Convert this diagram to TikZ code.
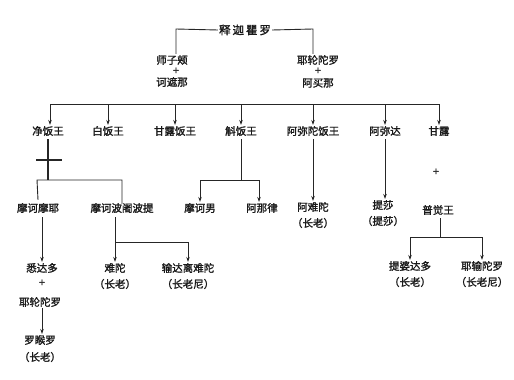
\documentclass[tikz,border=0pt]{standalone}
\usepackage{fontspec}
\setmainfont{Noto Sans CJK SC}[AutoFakeBold=1.6]
\usetikzlibrary{arrows.meta}
\begin{document}
\begin{tikzpicture}[x=1pt,y=-1pt,
  every node/.style={font=\fontsize{10.5}{12}\selectfont\bfseries, inner sep=1pt, text=black!90},
  ln/.style={draw=black!85, line width=0.9pt},
  ar/.style={ln, -{Stealth[length=5pt,width=3.5pt]}}]
\useasboundingbox (0,0) rectangle (514,380);
% top
\node (top) at (245,30) {\fontsize{11.5}{12}\selectfont 释\,迦\,瞿\,罗};
\node (szj) at (172,60) {师子颊};
\node (p1) at (176,71) {+};
\node (hzn) at (172,82) {诃遮那};
\node (ylt) at (318,60) {耶轮陀罗};
\node (p2) at (318,71) {+};
\node (amn) at (318,83) {阿买那};
\draw[ln] (top.west) -- (176,29) -- (szj.north -| 176,0);
\draw[ln] (top.east) -- (313,29) -- (ylt.north -| 313,0);
% generation 2
\node (jfw) at (48,131) {净饭王};
\node (bfw) at (108,131) {白饭王};
\node (glfw) at (175,131) {甘露饭王};
\node (hfw) at (241,131) {斛饭王};
\node (amtfw) at (313,131) {阿弥陀饭王};
\node (amd) at (385,131) {阿弥达};
\node (gl) at (439,131) {甘露};
\draw[ln] (50,104) -- (439,104);
\draw[ar] (50,104) -- (jfw.north -| 50,0);
\draw[ar] (108,104) -- (bfw.north);
\draw[ar] (175,104) -- (glfw.north);
\draw[ar] (241,104) -- (hfw.north);
\draw[ar] (313,104) -- (amtfw.north);
\draw[ar] (385,104) -- (amd.north);
\draw[ar] (439,104) -- (gl.north);
% 净饭王 branch
\node (mhmy) at (38,208) {摩诃摩耶};
\node (mhbs) at (122,208) {摩诃波阇波提};
\draw[ln, line width=1.1pt] (jfw.south) ++(0,2) -- (48,180);
\draw[ln, line width=1.1pt] (36,160) -- (62,160);
\draw[ln] (mhmy.north) ++(0,-2) -- (37,180) -- (122,180) -- ([yshift=-2pt]mhbs.north);
% 摩诃摩耶 line
\node (sdd) at (42,268) {悉达多};
\node (p3) at (42,283) {+};
\node (ylt2) at (40,302) {耶轮陀罗};
\node (lhl) at (40,340) {罗睺罗};
\node (zl1) at (40,357) {（长老）};
\draw[ar] (mhmy.south -| 42,0) ++(0,3) -- (sdd.north -| 42,0);
\draw[ar] (ylt2.south -| 42,0) -- (lhl.north -| 42,0);
% 摩诃波阇波提 branch
\node (nt) at (115,268) {难陀};
\node (zl2) at (115,284) {（长老）};
\node (sdlnt) at (188,268) {输达离难陀};
\node (zln1) at (188,284) {（长老尼）};
\draw[ar] (mhbs.south -| 115,0) ++(0,3) -- (nt.north);
\draw[ar] (115,242) -- (188,242) -- (sdlnt.north);
% 斛饭王 branch
\node (mhn) at (200,208) {摩诃男};
\node (anl) at (262,208) {阿那律};
\draw[ln] (hfw.south) ++(0,2) -- (241,180);
\draw[ar] (200,180) -- (mhn.north);
\draw[ar] (200,180) -- (259,180) -- (anl.north -| 259,0);
% 阿弥陀饭王
\node (ant) at (313,207) {阿难陀};
\node (zl3) at (313,223) {（长老）};
\draw[ar] (amtfw.south) ++(0,2) -- (ant.north);
% 阿弥达
\node (ts) at (383,205) {提莎};
\node (ts2) at (383,221) {（提莎）};
\draw[ar] (amd.south) ++(0,2) -- (ts.north -| 385,0);
% 甘露
\node (p4) at (436,172) {+};
\node (pjw) at (438,210) {普觉王};
\node (tpdd) at (410,266) {提婆达多};
\node (zl4) at (410,282) {（长老）};
\node (ysdl) at (482,266) {耶输陀罗};
\node (zln2) at (482,282) {（长老尼）};
\draw[ln] (pjw.south -| 440,0) ++(0,2) -- (440,237);
\draw[ar] (440,237) -- (410,237) -- (tpdd.north);
\draw[ar] (440,237) -- (482,237) -- (ysdl.north);
\end{tikzpicture}
\end{document}
